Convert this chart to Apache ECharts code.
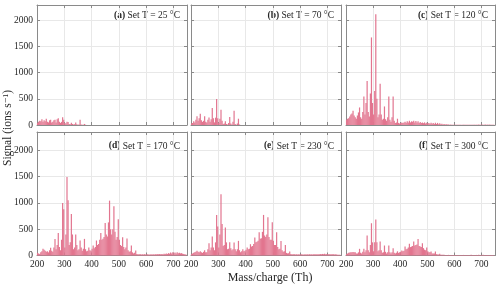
<!DOCTYPE html>
<html><head><meta charset="utf-8">
<script src="https://cdn.jsdelivr.net/npm/echarts@6/dist/echarts.min.js"></script>
<style>html,body{margin:0;padding:0;background:#fff}#c{width:500px;height:287px}</style>
</head><body><div id="c"></div>
<script>
// m/z positions (Th)
const mz = [202,206,210,214,218,222,226,230,234,238,
 242,246,250,254,258,262,266,270,274,278,
 282,286,290,294,298,302,306,310,314,318,
 322,326,330,334,338,342,346,350,354,358,
 362,366,370,374,378,382,386,390,394,398,
 402,406,410,414,418,422,426,430,434,438,
 442,446,450,454,458,462,466,470,474,478,
 482,486,490,494,498,502,506,510,514,518,
 522,526,530,534,538,542,546,550,554,558,
 562,566,570,574,578,582,586,590,594,598,
 602,606,610,614,618,622,626,630,634,638,
 642,646,650,654,658,662,666,670,674,678,
 682,686,690,694,698,702,706,710,714,718,
 722,726,730,734,738,742,746];

const panelLetters = ['(a)','(b)','(c)','(d)','(e)','(f)'];
const panelTemps = ['25','70','120','170','230','300'];

const signal25 = [40,60,80,70,110,60,90,70,120,60,
 50,90,100,50,60,90,100,50,110,130,
 60,40,60,150,100,40,30,60,55,20,
 15,45,20,10,15,50,15,5,10,100,
 10,5,5,20,5,0,0,0,0,0,
 0,0,0,0,0,0,0,0,0,0, 0,0,0,0,0,0,0,0,0,0, 0,0,0,0,0,0,0,0,0,0,
 0,0,0,0,0,0,0,0,0,0, 0,0,0,0,0,0,0,0,0,0, 0,0,0,0,0,0,0,0,0,0,
 0,0,0,0,0,0,0,0,0,0, 0,0,0,0,0,0,0,0,0,0, 0,0,0,0,0,0,0];

const signal70 = [30,40,70,50,100,165,80,130,215,90,
 60,80,165,60,50,100,145,60,110,323,
 130,50,140,494,130,40,120,291,80,20,
 30,70,20,10,40,152,30,10,60,272,
 20,5,30,120,10,0,0,0,0,0,
 0,0,0,0,0,0,0,0,0,0, 0,0,0,0,0,0,0,0,0,0, 0,0,0,0,0,0,0,0,0,0,
 0,0,0,0,0,0,0,0,0,0, 0,0,0,0,0,0,0,0,0,0, 0,0,0,0,0,0,0,0,0,0,
 0,0,0,0,0,0,0,0,0,0, 0,0,0,0,0,0,0,0,0,0, 0,0,0,0,0,0,0];

const signal120 = [100,120,130,160,200,220,272,180,150,120,
 180,240,335,150,120,250,544,200,420,842,
 250,160,600,1671,420,200,650,2114,500,150,
 200,785,200,100,120,354,110,80,150,544,
 100,60,150,544,80,40,50,120,40,30,
 40,50,40,50,60,45,70,50,80,50,
 70,60,80,50,75,50,70,40,55,40,
 50,35,50,30,45,30,40,25,45,25,
 40,20,45,20,40,15,35,15,25,10,
 20,10,15,8,10,6,8,5,6,5,
 5,6,5,4,6,5,4,5,6,4,
 5,4,6,5,4,6,5,4,6,5,
 6,5,8,6,7,8,6,7,8,6,
 7,6,8,6,5,6,4];

const signal170 = [50,40,30,60,80,127,110,90,70,80,
 60,100,146,90,70,150,316,120,200,430,
 160,100,300,1000,880,150,400,1494,1050,200,
 250,791,400,120,150,400,200,100,120,285,
 150,90,130,316,120,80,90,150,100,90,
 130,190,140,160,285,200,220,300,430,300,
 320,350,620,400,360,630,1044,500,400,500,
 937,450,300,350,690,300,200,180,348,160,
 120,150,323,100,70,80,190,60,40,50,
 95,30,25,25,30,20,25,20,25,20,
 20,25,20,20,25,20,25,20,25,22,
 25,22,30,25,30,25,35,30,40,30,
 45,35,55,40,60,45,55,40,60,45,
 50,40,45,35,30,25,20];

const signal230 = [30,40,50,60,70,90,70,60,80,60,
 50,70,100,60,60,120,234,100,150,361,
 150,100,250,772,550,150,400,1165,600,180,
 200,532,250,120,130,253,140,100,120,247,
 120,80,120,278,100,60,80,120,80,90,
 110,152,120,130,215,170,180,220,342,250,
 260,280,443,320,330,450,772,380,350,400,
 728,350,300,300,633,280,200,200,443,160,
 120,130,278,100,70,80,200,50,40,45,
 76,30,25,25,30,20,25,20,22,20,
 20,22,20,20,22,20,22,20,22,20,
 22,20,25,22,25,22,25,22,28,24,
 30,25,32,26,30,25,28,24,26,22,
 25,20,22,18,16,15,12];

const signal300 = [30,40,50,55,60,60,65,60,60,40,
 40,60,127,50,40,70,127,60,100,380,
 100,60,200,614,250,80,250,684,250,80,
 100,266,100,50,60,190,70,40,60,190,
 60,40,60,139,50,40,50,80,50,60,
 70,95,80,90,171,120,130,150,222,160,
 170,180,266,190,200,210,316,180,170,160,
 234,140,110,100,152,80,60,60,76,40,
 40,40,76,25,20,20,32,15,12,12,
 12,10,11,10,12,10,9,10,11,10,
 10,9,10,11,10,9,10,10,11,10,
 10,11,10,9,10,12,10,11,10,10,
 11,10,12,10,11,10,12,10,11,10,
 10,9,10,8,8,8,7];

const panelSignals = [signal25, signal70, signal120, signal170, signal230, signal300];

// layout
const lefts = [37, 191, 346];
const widths = [150, 150, 149];
const tops = [5, 132];
const heights = [120, 123.5];
const ymaxs = [2290, 2350];
const titleY = [15.7, 146];

const FONT = "'Liberation Serif','DejaVu Serif',serif";
const AX = '#8a8a8a';
const GRIDC = '#e8e8e8';
const PINK = '#e2758f';
const TXT = '#262626';

const grids = [], xAxes = [], yAxes = [], series = [], graphics = [];
panelSignals.forEach((vals, k) => {
  const r = Math.floor(k / 3), c = k % 3;
  grids.push({left: lefts[c], top: tops[r], width: widths[c], height: heights[r]});
  const axLine = {show: true, onZero: false, lineStyle: {color: AX, width: 1}};
  const axTick = {show: true, inside: true, length: 3, lineStyle: {color: AX}};
  xAxes.push({type: 'value', gridIndex: k, min: 200, max: 750, interval: 100, position: 'bottom',
    axisLine: axLine, axisTick: axTick,
    axisLabel: {show: r === 1, showMaxLabel: false, fontFamily: FONT, fontSize: 9.5, color: TXT, margin: 4,
      formatter: v => String(v)},
    splitLine: {show: true, lineStyle: {color: GRIDC, width: 1}}});
  xAxes.push({type: 'value', gridIndex: k, min: 200, max: 750, interval: 100, position: 'top',
    axisLine: axLine, axisTick: axTick, axisLabel: {show: false}, splitLine: {show: false}});
  yAxes.push({type: 'value', gridIndex: k, min: 0, max: ymaxs[r], interval: 500, position: 'left',
    axisLine: axLine, axisTick: axTick,
    axisLabel: {show: c === 0, showMaxLabel: false, fontFamily: FONT, fontSize: 9.5, color: TXT, margin: 4,
      formatter: v => String(v)},
    splitLine: {show: true, lineStyle: {color: GRIDC, width: 1}}});
  yAxes.push({type: 'value', gridIndex: k, min: 0, max: ymaxs[r], interval: 500, position: 'right',
    axisLine: axLine, axisTick: axTick, axisLabel: {show: false}, splitLine: {show: false}});
  series.push({type: 'bar', xAxisIndex: 2 * k, yAxisIndex: 2 * k, barWidth: 1.2, silent: true,
    itemStyle: {color: PINK},
    data: mz.map((m, i) => [m, vals[i]])});
  graphics.push({type: 'text', x: lefts[c] + widths[c] - 7, y: titleY[r], silent: true,
    style: {text: '{b|' + panelLetters[k] + '} Set T = ' + panelTemps[k] + ' °C',
      align: 'right', verticalAlign: 'middle', fontFamily: FONT, fontSize: 9.5, fill: TXT,
      rich: {b: {fontWeight: 'bold', fontFamily: FONT, fontSize: 9.5, fill: TXT}}}});
});

graphics.push({type: 'text', x: 8, y: 128, rotation: Math.PI / 2, silent: true,
  style: {text: 'Signal (ions s⁻¹)', align: 'center', verticalAlign: 'middle', fontFamily: FONT, fontSize: 11.5, fill: TXT}});
graphics.push({type: 'text', x: 270, y: 278, silent: true,
  style: {text: 'Mass/charge (Th)', align: 'center', verticalAlign: 'middle', fontFamily: FONT, fontSize: 12, fill: TXT}});

const chart = echarts.init(document.getElementById('c'), null, {renderer: 'canvas'});
chart.setOption({
  animation: false,
  backgroundColor: '#fff',
  grid: grids, xAxis: xAxes, yAxis: yAxes, series: series, graphic: graphics
});
</script></body></html>
